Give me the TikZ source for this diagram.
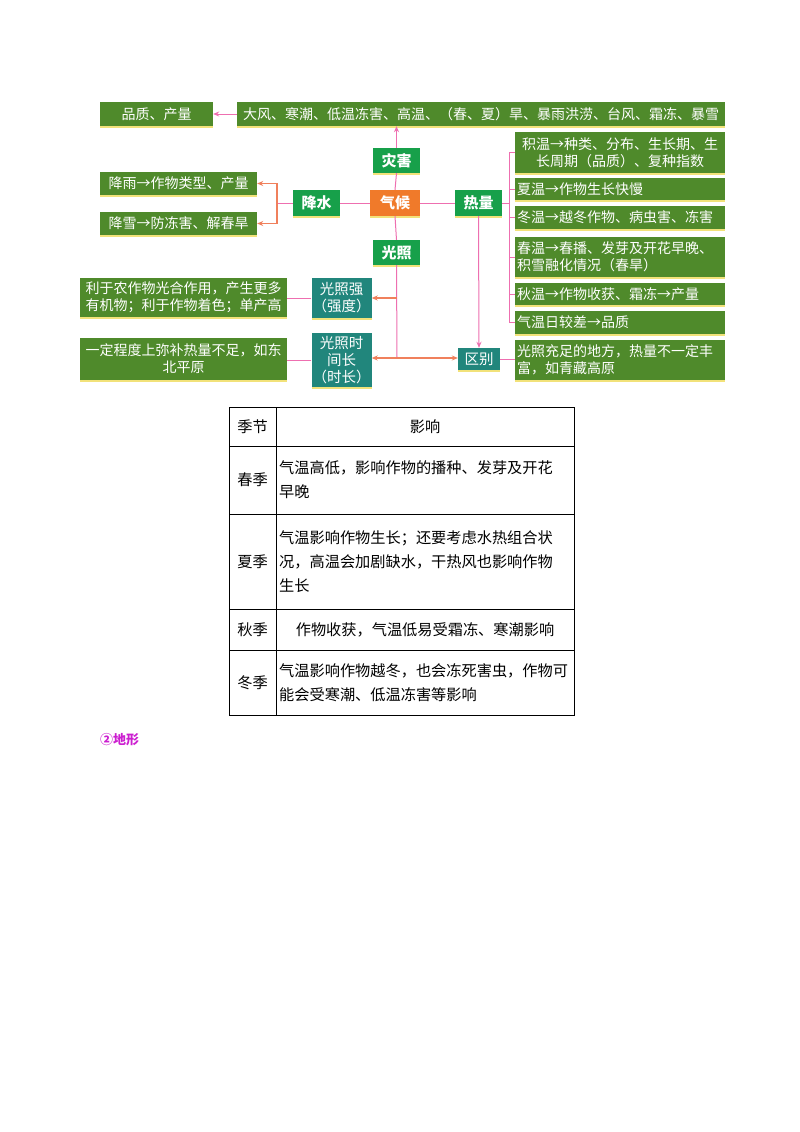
\documentclass[tikz,border=0pt]{standalone}
\usepackage{fontspec}
\setmainfont{Noto Sans CJK SC}
\usetikzlibrary{arrows.meta}
\definecolor{dg}{HTML}{4F8A2B}
\definecolor{bg}{HTML}{17A04A}
\definecolor{og}{HTML}{F07A2A}
\definecolor{tl}{HTML}{21867C}
\definecolor{pk}{HTML}{EE6FB0}
\definecolor{oa}{HTML}{F0805C}
\definecolor{sh}{HTML}{F2E27A}
\definecolor{pu}{HTML}{CC1FD0}
\tikzset{
 bx/.style={fill=#1,text=white,inner sep=1pt,align=center,font=\fontsize{14}{17}\selectfont,
   preaction={fill=sh,transform canvas={yshift=-2pt}}},
 gb/.style={bx=dg},
 lb/.style={bx=bg,font=\fontsize{15}{17}\selectfont\bfseries},
 tb/.style={bx=tl,font=\fontsize{14.5}{17}\selectfont},
 ln/.style={draw=pk,line width=1pt},
 ar/.style={ln,-{Stealth[length=6pt,width=5pt]}},
 oar/.style={draw=oa,line width=1.2pt,-{Stealth[length=6pt,width=5pt]}},
 tt/.style={font=\fontsize{15.2}{24}\selectfont},
 cell/.style={tt,align=left,anchor=west,inner sep=3pt}
}
\begin{document}
\begin{tikzpicture}[x=1pt,y=-1pt]
\useasboundingbox[fill=white] (0,0) rectangle (800,1132);
% top
\node[gb,minimum width=113,minimum height=24] (pz) at (156.5,114) {品质、产量};
\node[gb,minimum width=488,minimum height=24] (zh) at (481,114) {大风、寒潮、低温冻害、高温、（春、夏）旱、暴雨洪涝、台风、霜冻、暴雪};
\node[lb,minimum width=47,minimum height=25] (zai) at (396.5,160.5) {灾害};
\node[lb,minimum width=47,minimum height=26] (js) at (316.5,203) {降水};
\node[bx=og,font=\fontsize{15}{17}\selectfont\bfseries,minimum width=50,minimum height=26] (qh) at (395,203) {气候};
\node[lb,minimum width=47,minimum height=26] (rl) at (478.5,203) {热量};
\node[lb,minimum width=47,minimum height=25] (gz) at (396.5,252.5) {光照};
\node[gb,minimum width=157,minimum height=23] (jy) at (178.5,183.5) {降雨→作物类型、产量};
\node[gb,minimum width=157,minimum height=23] (jx) at (178.5,223.5) {降雪→防冻害、解春旱};
% right column
\node[gb,minimum width=210,minimum height=41] (r1) at (620,152.5) {积温→种类、分布、生长期、生\\长周期（品质）、复种指数};
\node[gb,minimum width=210,minimum height=22,text width=206,align=left] (r2) at (620,189) {夏温→作物生长快慢};
\node[gb,minimum width=210,minimum height=23,text width=206,align=left] (r3) at (620,217.5) {冬温→越冬作物、病虫害、冻害};
\node[gb,minimum width=210,minimum height=40,text width=206,align=left] (r4) at (620,257) {春温→春播、发芽及开花早晚、\\积雪融化情况（春旱）};
\node[gb,minimum width=210,minimum height=22,text width=206,align=left] (r5) at (620,294) {秋温→作物收获、霜冻→产量};
\node[gb,minimum width=210,minimum height=23,text width=206,align=left] (r6) at (620,322.5) {气温日较差→品质};
\node[gb,minimum width=210,minimum height=40,text width=206,align=left] (r7) at (620,360) {光照充足的地方，热量不一定丰\\富，如青藏高原};
% teal
\node[tb,minimum width=57,minimum height=40] (gq) at (341.5,298) {光照强\\（强度）};
\node[tb,minimum width=57,minimum height=54] (gs) at (341.5,360) {光照时\\间长\\（时长）};
\node[tb,minimum width=42,minimum height=22] (qb) at (479,359) {区别};
\node[gb,minimum width=207,minimum height=39] (ly) at (183.5,297.5) {利于农作物光合作用，产生更多\\有机物；利于作物着色；单产高};
\node[gb,minimum width=207,minimum height=42] (yd) at (183.5,359) {一定程度上弥补热量不足，如东\\北平原};
% connectors
\draw[ar] (zai.north) -- (zai.north |- zh.south);
\draw[ar] (zh.west) -- (pz.east);
\draw[ln] (qh.north) -- (zai.south);
\draw[ln] (js.east) -- (qh.west);
\draw[ln] (qh.east) -- (rl.west);
\draw[ln] (qh.south) -- (gz.north);
\coordinate (jl) at (277,203);
\draw[ln] (js.west) -- (jl);
\draw[oar] (jl) |- (jy.east);
\draw[oar] (jl) |- (jx.east);
\coordinate (rt) at (509,203);
\draw[ln] (rl.east) -- (rt);
\draw[ln] (509,152.5) -- (509,322.5);
\foreach \r in {r1,r2,r3,r4,r5,r6} \draw[ln] (509,0 |- \r.west) -- (\r.west);
\draw[ar] (rl.south) -- (qb.north);
\coordinate (gd) at (397,358);
\coordinate (gm) at (397,298);
\draw[ln] (gz.south) -- (gd);
\draw[oar] (gm) -- (gq.east |- gm);
\draw[oar] (gd) -- (gs.east |- gd);
\draw[oar] (gd) -- (qb.west |- gd);
\draw[ln] (qb.east) -- (r7.west |- qb.east);
\draw[ln] (gq.west) -- (ly.east |- gq.west);
\draw[ln] (gs.west) -- (yd.east |- gs.west);
% table
\draw[line width=1pt] (229,407) rectangle (574,715);
\draw[line width=0.5pt] (276,407) -- (276,715);
\foreach \y in {446,514,609,650} \draw[line width=0.5pt] (229,\y) -- (574,\y);
\node[tt] (h1) at (252.5,426.5) {季节};
\node[tt] (h2) at (425,426.5) {影响};
\node[tt] (s1) at (252.5,480) {春季};
\node[tt] (s2) at (252.5,561.5) {夏季};
\node[tt] (s3) at (252.5,629.5) {秋季};
\node[tt] (s4) at (252.5,682.5) {冬季};
\node[cell] (c1) at (276,480) {气温高低，影响作物的播种、发芽及开花\\早晚};
\node[cell] (c2) at (276,561.5) {气温影响作物生长；还要考虑水热组合状\\况，高温会加剧缺水，干热风也影响作物\\生长};
\node[tt] (c3) at (425,629.5) {作物收获，气温低易受霜冻、寒潮影响};
\node[cell] (c4) at (276,682.5) {气温影响作物越冬，也会冻死害虫，作物可\\能会受寒潮、低温冻害等影响};
\node[anchor=west,text=pu,font=\fontsize{13}{15}\selectfont\bfseries,inner sep=0] (dx) at (100,740) {②地形};
\end{tikzpicture}
\end{document}
